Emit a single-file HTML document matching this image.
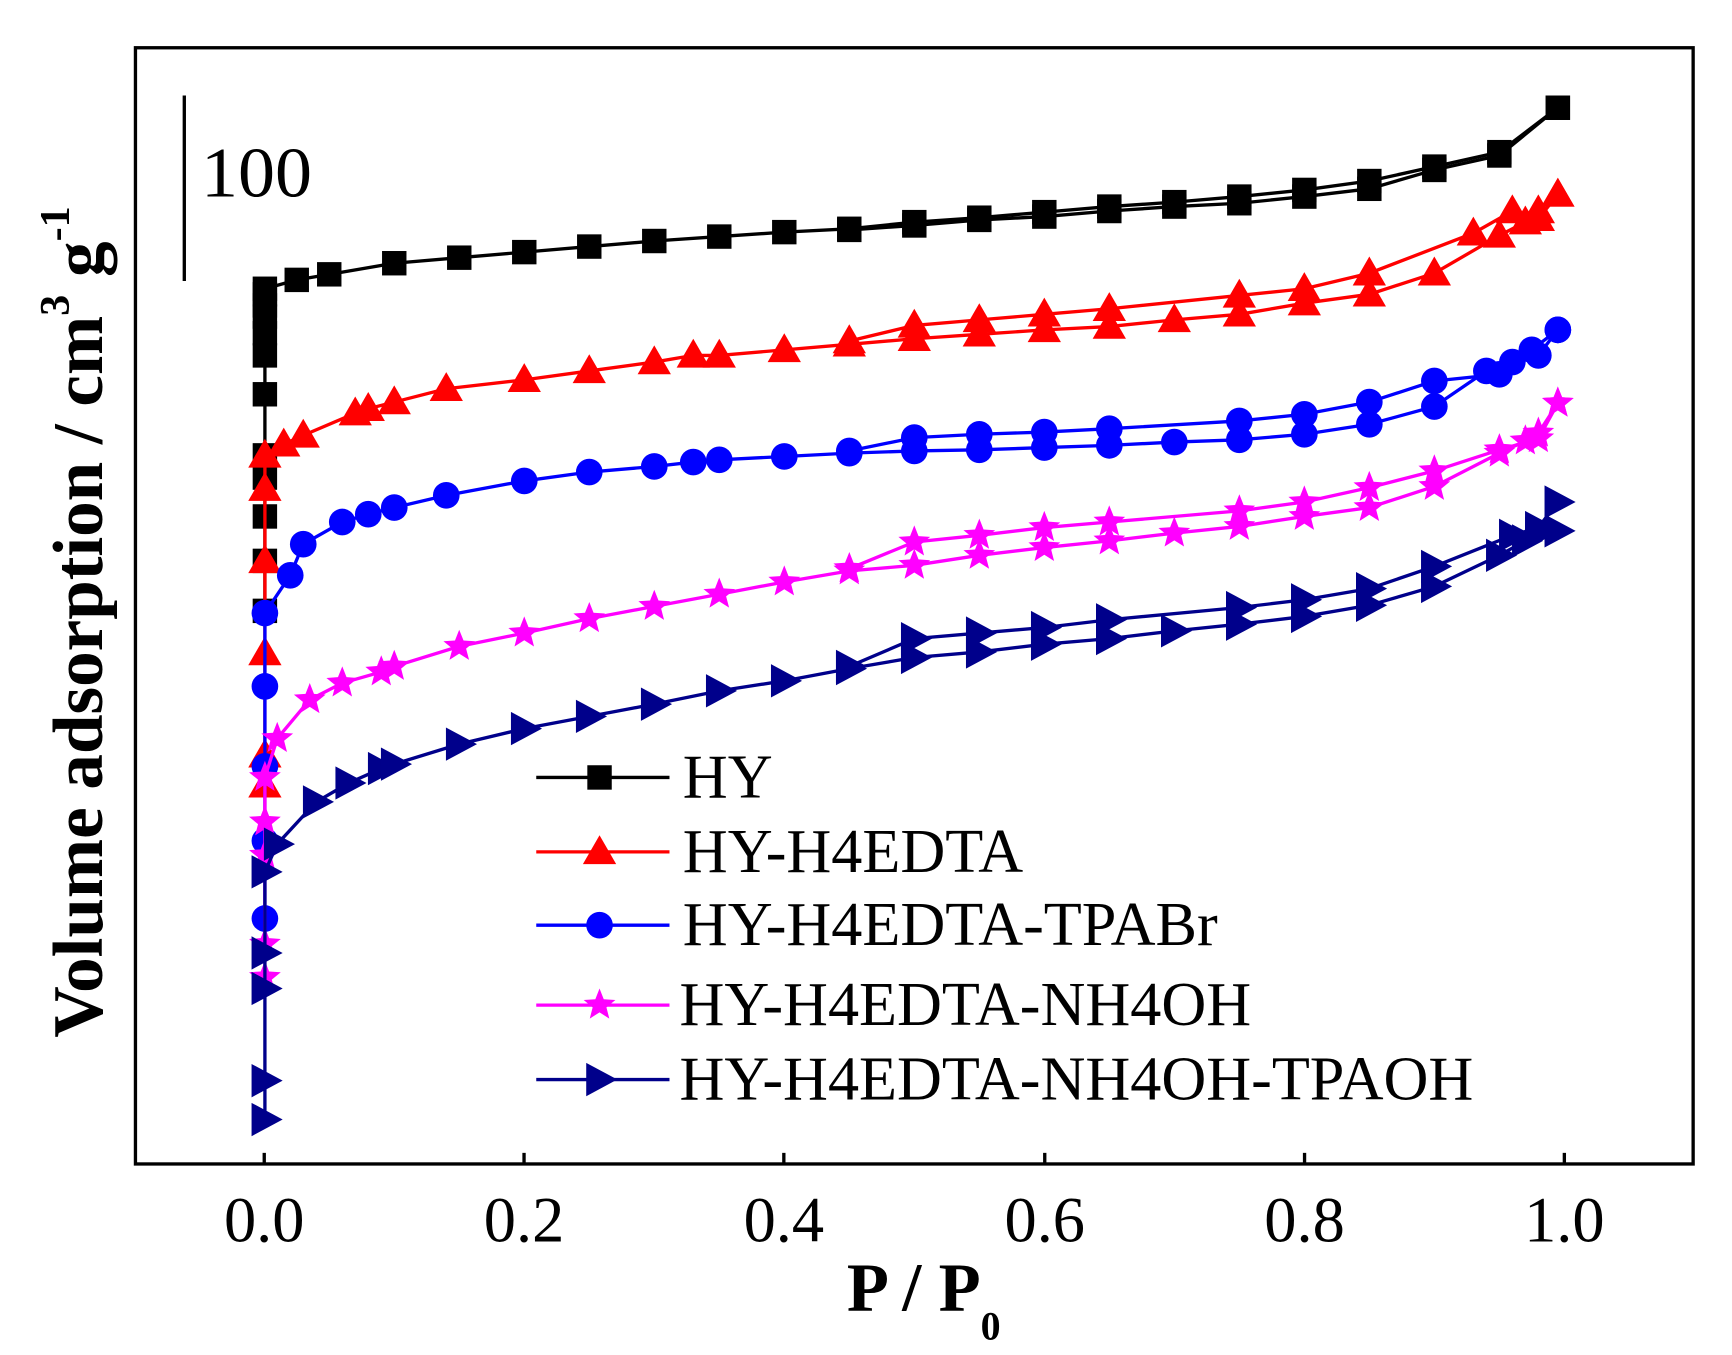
<!DOCTYPE html>
<html><head><meta charset="utf-8"><style>html,body{margin:0;padding:0;background:#fff}svg{display:block}</style></head>
<body>
<svg id="s" width="1732" height="1355" viewBox="0 0 1560 1220" preserveAspectRatio="none" xmlns="http://www.w3.org/2000/svg" font-family="Liberation Serif, serif">
<rect x="0" y="0" width="1560" height="1220" fill="#fff"/>
<g id="data"></g>
<rect x="122" y="43" width="1403" height="1005" fill="none" stroke="#000" stroke-width="3"/>
<g stroke="#000" stroke-width="3">
<line x1="238" y1="1048" x2="238" y2="1038"/><line x1="472" y1="1048" x2="472" y2="1038"/><line x1="706" y1="1048" x2="706" y2="1038"/><line x1="941" y1="1048" x2="941" y2="1038"/><line x1="1175" y1="1048" x2="1175" y2="1038"/><line x1="1409" y1="1048" x2="1409" y2="1038"/>
<line x1="166" y1="86" x2="166" y2="253"/>
</g>
<text x="181" y="177" font-size="64" textLength="100" lengthAdjust="spacingAndGlyphs">100</text>
<g font-size="58" text-anchor="middle">
<text x="238" y="1118">0.0</text><text x="472" y="1118">0.2</text><text x="706" y="1118">0.4</text><text x="941" y="1118">0.6</text><text x="1175" y="1118">0.8</text><text x="1409" y="1118">1.0</text>
</g>
<text x="832" y="1180" font-size="62" font-weight="bold" text-anchor="middle">P / P<tspan font-size="36" dy="26">0</tspan></text>
<text transform="translate(92,560) rotate(-90)" font-size="64" font-weight="bold" text-anchor="middle">Volume adsorption / cm<tspan font-size="38" dy="-30">3</tspan><tspan dy="30"> g</tspan><tspan font-size="38" dy="-30">-1</tspan></text>
<g font-size="56">
<text x="615" y="718">HY</text>
<text x="615" y="785">HY-H4EDTA</text>
<text x="615" y="851">HY-H4EDTA-TPABr</text>
<text x="612" y="923">HY-H4EDTA-NH4OH</text>
<text x="612" y="990">HY-H4EDTA-NH4OH-TPAOH</text>
</g>
<g id="leg"></g>
</svg>
<script>
var NS="http://www.w3.org/2000/svg";
function X(p){return 238+1171*p;}
function el(t,a,par){var e=document.createElementNS(NS,t);for(var k in a)e.setAttribute(k,a[k]);par.appendChild(e);return e;}
function marker(type,x,y,c,par){
 var r=11;
 if(type=="sq") el("rect",{x:x-r,y:y-r,width:2*r,height:2*r,fill:c},par);
 else if(type=="tri") el("polygon",{points:(x)+","+(y-15)+" "+(x+15)+","+(y+11)+" "+(x-15)+","+(y+11),fill:c},par);
 else if(type=="ci") el("circle",{cx:x,cy:y,r:12,fill:c},par);
 else if(type=="rt") el("polygon",{points:(x-12)+","+(y-15)+" "+(x+16)+","+y+" "+(x-12)+","+(y+15),fill:c},par);
 else if(type=="st"){var pts=[];for(var i=0;i<10;i++){var rr=i%2?6.5:15,a=-Math.PI/2+i*Math.PI/5;pts.push((x+rr*Math.cos(a)).toFixed(1)+","+(y+rr*Math.sin(a)).toFixed(1));}el("polygon",{points:pts.join(" "),fill:c},par);}
}
var S=[
{c:"#000",m:"sq",low:[550,505,465,430,410,355,320,300,285,275,265,260],
 ad:[[0.025,252],[0.05,247],[0.1,237],[0.15,232],[0.2,227],[0.25,222],[0.3,217],[0.35,213],[0.4,209],[0.45,206],[0.5,200],[0.55,196],[0.6,191],[0.65,186],[0.7,182],[0.75,177],[0.8,171],[0.85,163],[0.9,150],[0.95,137],[0.995,97]],
 de:[[0.995,97],[0.95,140],[0.9,153],[0.85,170],[0.8,177],[0.75,183],[0.7,186],[0.65,190],[0.6,195],[0.55,198],[0.5,203],[0.45,207]]},
{c:"#f00",m:"tri",low:[707,680,588,505,440,410],
 ad:[[0.015,400],[0.03,392],[0.07,372],[0.08,368],[0.1,362],[0.14,350],[0.2,342],[0.25,334],[0.3,326],[0.33,320],[0.35,320],[0.4,315],[0.45,310],[0.5,305],[0.55,301],[0.6,297],[0.65,294],[0.7,288],[0.75,283],[0.8,273],[0.85,265],[0.9,246],[0.95,212],[0.97,200],[0.98,190],[0.995,175]],
 de:[[0.995,175],[0.98,197],[0.96,190],[0.93,210],[0.85,246],[0.8,260],[0.75,266],[0.65,278],[0.6,283],[0.55,288],[0.5,293],[0.45,307]]},
{c:"#00f",m:"ci",low:[827,757,690,618,552],
 ad:[[0.02,518],[0.03,490],[0.06,470],[0.08,463],[0.1,457],[0.14,446],[0.2,433],[0.25,425],[0.3,420],[0.33,416],[0.35,414],[0.4,411],[0.45,408],[0.5,406],[0.55,405],[0.6,403],[0.65,401],[0.7,398],[0.75,396],[0.8,391],[0.85,382],[0.9,366],[0.94,334],[0.96,326],[0.98,320],[0.995,297]],
 de:[[0.995,297],[0.975,315],[0.95,337],[0.9,343],[0.85,362],[0.8,373],[0.75,379],[0.65,386],[0.6,389],[0.55,391],[0.5,394],[0.45,406]]},
{c:"#f0f",m:"st",low:[880,850,770,740,700],
 ad:[[0.01,665],[0.035,630],[0.06,615],[0.09,605],[0.1,600],[0.15,582],[0.2,570],[0.25,557],[0.3,546],[0.35,535],[0.4,524],[0.45,514],[0.5,509],[0.55,500],[0.6,493],[0.65,487],[0.7,480],[0.75,474],[0.8,465],[0.85,457],[0.9,438],[0.95,408],[0.97,397],[0.98,390],[0.995,363]],
 de:[[0.995,363],[0.98,395],[0.95,405],[0.9,424],[0.85,439],[0.8,452],[0.75,460],[0.65,470],[0.6,475],[0.55,482],[0.5,488],[0.45,512]]},
{c:"#00008b",m:"rt",low:[1008,973,890,858,785],
 ad:[[0.01,760],[0.04,722],[0.065,705],[0.09,692],[0.1,688],[0.15,670],[0.2,656],[0.25,645],[0.3,634],[0.35,622],[0.4,613],[0.45,602],[0.5,592],[0.55,587],[0.6,580],[0.65,575],[0.7,568],[0.75,562],[0.8,555],[0.85,545],[0.9,528],[0.95,500],[0.97,487],[0.98,480],[0.995,478]],
 de:[[0.995,452],[0.98,475],[0.96,482],[0.9,510],[0.85,530],[0.8,540],[0.75,547],[0.65,558],[0.6,565],[0.55,570],[0.5,575],[0.45,600]]}
];
var g=document.getElementById("data"),lg=document.getElementById("leg");
S.forEach(function(s,i){
 var pts=[];s.low.forEach(function(y){pts.push([0.0005,y]);});
 pts=pts.concat(s.ad);
 var d=pts.map(function(p){return X(p[0]).toFixed(1)+","+p[1];}).join(" ");
 el("polyline",{points:d,fill:"none",stroke:s.c,"stroke-width":3},g);
 var d2=s.de.map(function(p){return X(p[0]).toFixed(1)+","+p[1];}).join(" ");
 el("polyline",{points:d2,fill:"none",stroke:s.c,"stroke-width":3},g);
 pts.concat(s.de).forEach(function(p){marker(s.m,X(p[0]),p[1],s.c,g);});
 var ly=[700,767,833,905,972][i];
 el("line",{x1:483,y1:ly,x2:603,y2:ly,stroke:s.c,"stroke-width":3},lg);
 marker(s.m,540,ly,s.c,lg);
});
</script>
</body></html>
